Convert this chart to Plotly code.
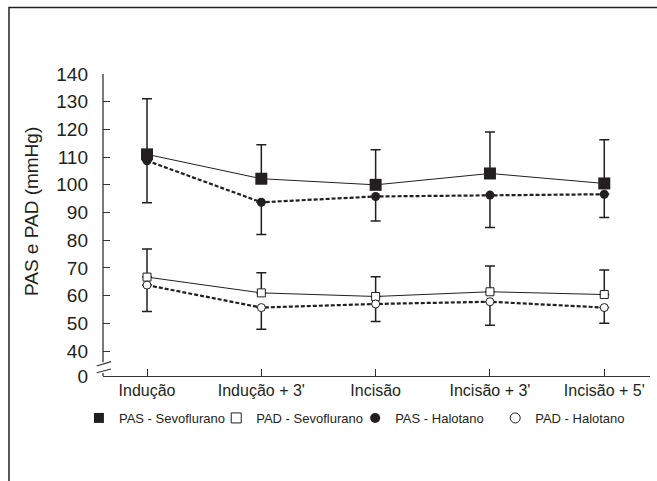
import plotly.graph_objects as go

categories = ["Indução", "Indução + 3'", "Incisão", "Incisão + 3'", "Incisão + 5'"]

pas_sevo = [111.0, 102.2, 100.0, 104.1, 100.5]
pas_sevo_upper = [131.1, 114.5, 112.7, 119.1, 116.3]
pas_halo = [108.7, 93.7, 95.8, 96.3, 96.6]
pas_halo_lower = [93.5, 82.1, 86.9, 84.6, 88.2]

pad_sevo = [66.7, 61.0, 59.7, 61.4, 60.4]
pad_sevo_upper = [76.8, 68.3, 66.8, 70.7, 69.3]
pad_halo = [63.8, 55.7, 57.0, 57.8, 55.7]
pad_halo_lower = [54.3, 47.9, 50.7, 49.3, 50.0]

ytick_vals = [31, 40, 50, 60, 70, 80, 90, 100, 110, 120, 130, 140]
ytick_text = ["0", "40", "50", "60", "70", "80", "90", "100", "110", "120", "130", "140"]

legend_names = ["PAS - Sevoflurano", "PAD - Sevoflurano", "PAS - Halotano", "PAD - Halotano"]

INK = "#231f20"
FONT = "Liberation Sans, Arial, sans-serif"

def up(vals, ref):
    return [u - v for u, v in zip(ref, vals)]

fig = go.Figure()

def err(plus, minus):
    return dict(type="data", symmetric=False, array=plus, arrayminus=minus,
                color=INK, thickness=1.5, width=5)

zeros = [0] * len(categories)

# PAS Halotano
fig.add_trace(go.Scatter(
    x=categories, y=pas_halo, mode="lines+markers", showlegend=False,
    line=dict(color=INK, width=2.2, dash="4px,2px"),
    marker=dict(symbol="circle", size=9, color=INK),
    error_y=err(zeros, up(pas_halo_lower, pas_halo))))
# PAS Sevoflurano
fig.add_trace(go.Scatter(
    x=categories, y=pas_sevo, mode="lines+markers", showlegend=False,
    line=dict(color=INK, width=1),
    marker=dict(symbol="square", size=12, color=INK),
    error_y=err(up(pas_sevo, pas_sevo_upper), zeros)))
# PAD Sevoflurano
fig.add_trace(go.Scatter(
    x=categories, y=pad_sevo, mode="lines+markers", showlegend=False,
    line=dict(color=INK, width=1),
    marker=dict(symbol="square", size=8, color="white", line=dict(color=INK, width=1)),
    error_y=err(up(pad_sevo, pad_sevo_upper), zeros)))
# PAD Halotano
fig.add_trace(go.Scatter(
    x=categories, y=pad_halo, mode="lines+markers", showlegend=False,
    line=dict(color=INK, width=2.2, dash="4px,2px"),
    marker=dict(symbol="circle", size=8, color="white", line=dict(color=INK, width=1)),
    error_y=err(zeros, up(pad_halo_lower, pad_halo))))

# legend-only entries (marker symbols only)
legend_markers = [
    dict(symbol="square", size=10, color=INK),
    dict(symbol="square", size=10, color="white", line=dict(color=INK, width=1)),
    dict(symbol="circle", size=10, color=INK),
    dict(symbol="circle", size=10, color="white", line=dict(color=INK, width=1)),
]
legend_ids = ["legend", "legend2", "legend3", "legend4"]
for name, mk, lid in zip(legend_names, legend_markers, legend_ids):
    fig.add_trace(go.Scatter(x=[None], y=[None], mode="markers", name=name,
                             marker=mk, legend=lid, showlegend=True))

legend_x = [-0.0440, 0.2070, 0.4610, 0.7170]
leg_common = dict(orientation="h", yanchor="middle", xanchor="left", y=-0.139,
                  font=dict(family=FONT, size=13, color=INK),
                  bgcolor="rgba(0,0,0,0)", borderwidth=0, itemwidth=30)
layout_legends = {}
for lid, lx in zip(legend_ids, legend_x):
    layout_legends[lid] = dict(leg_common, x=lx)

fig.update_layout(
    width=657, height=481,
    margin=dict(l=103, r=7, t=74, b=105),
    paper_bgcolor="white", plot_bgcolor="white",
    font=dict(family=FONT, color=INK),
    xaxis=dict(
        type="category", range=[-0.385, 4.40],
        showline=True, linecolor="#333333", linewidth=1.3,
        ticks="inside", ticklen=7, tickcolor="#333333", tickwidth=1,
        showgrid=False, zeroline=False,
        tickfont=dict(family=FONT, size=16, color=INK),
        ticklabelstandoff=0,
    ),
    yaxis=dict(
        range=[31, 140], tickmode="array", tickvals=ytick_vals, ticktext=ytick_text,
        showline=False, ticks="inside", ticklen=7, tickcolor="#333333", tickwidth=1,
        showgrid=False, zeroline=False,
        tickfont=dict(family=FONT, size=19, color=INK),
        ticklabelstandoff=14,
    ),
    **layout_legends,
)

# y axis title
fig.add_annotation(text="PAS e PAD (mmHg)", xref="paper", yref="paper",
                   x=-0.1316, y=0.543, textangle=-90, showarrow=False,
                   font=dict(family=FONT, size=19, color=INK),
                   xanchor="center", yanchor="middle")

# y axis line with break
fig.add_shape(type="line", xref="paper", yref="y", x0=0, x1=0, y0=36.0, y1=140,
              line=dict(color="#333333", width=1.3))
fig.add_shape(type="line", xref="paper", yref="y", x0=0, x1=0, y0=31, y1=32.05,
              line=dict(color="#333333", width=1.3))
fig.add_shape(type="line", xref="paper", yref="paper", x0=-0.0115, y0=0.0331,
              x1=0.0146, y1=0.0474, line=dict(color="#333333", width=1.2))
fig.add_shape(type="line", xref="paper", yref="paper", x0=-0.0115, y0=0.0109,
              x1=0.0146, y1=0.0232, line=dict(color="#333333", width=1.2))

# outer frame (figure border)
fig.add_shape(type="rect", xref="paper", yref="paper",
              x0=(9 - 103) / 547, x1=(700 - 103) / 547,
              y0=(376 - 520) / 302, y1=(376 - 7.5) / 302,
              line=dict(color="#222222", width=1.5), fillcolor="rgba(0,0,0,0)")

fig.write_html("out.html", config={"displayModeBar": False},
               post_script="document.body.style.margin='0';document.body.style.padding='0';")
